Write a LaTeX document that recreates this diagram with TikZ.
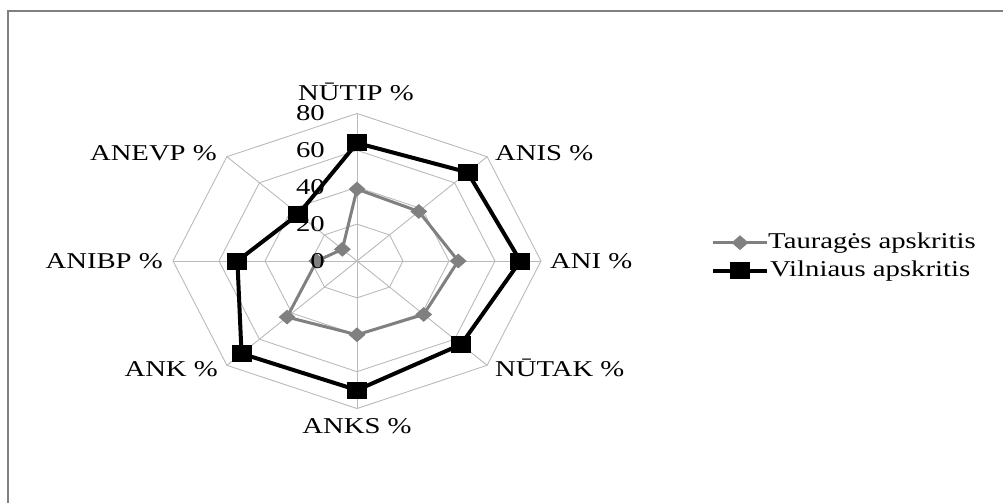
\documentclass[tikz,border=0pt]{standalone}
\usepackage{fontspec}
\setmainfont{Liberation Serif}[FakeStretch=1.27]
\usetikzlibrary{shapes.geometric}

\begin{document}
\begin{tikzpicture}[x=1pt,y=-1pt,
grid/.style={draw=black!27, line width=0.9pt},
frame/.style={draw=black!50, line width=1.6pt},
taur/.style={draw=black!50, line width=3pt, line join=round},
vil/.style={draw=black, line width=4pt, line join=round},
taurmark/.style={diamond, fill=black!50, inner sep=0pt, minimum width=17pt, minimum height=15pt},
vilmark/.style={rectangle, fill=black, inner sep=0pt, minimum width=20pt, minimum height=17pt},
lab/.style={inner sep=0pt, font=\fontsize{22.6}{27}\selectfont}]

\useasboundingbox (0,0) rectangle (1003,503);
\draw[frame] (8,503) -- (8,11) -- (1003,11);

% radar grid and data
\begin{scope}[shift={(357,261)}, x=2.3pt, y=1.844pt]
\foreach \r in {20,40,60,80}
  \draw[grid] (90:\r) -- (45:\r) -- (0:\r) -- (-45:\r) -- (-90:\r) -- (-135:\r) -- (180:\r) -- (135:\r) -- cycle;
\foreach \a in {0,45,...,315}
  \draw[grid] (0,0) -- (\a:80);

\coordinate (T1) at (90:39);
\coordinate (T2) at (45:38);
\coordinate (T3) at (0:44);
\coordinate (T4) at (-45:41);
\coordinate (T5) at (-90:40);
\coordinate (T6) at (-135:43);
\coordinate (T7) at (180:17.5);
\coordinate (T8) at (135:9);

\coordinate (V1) at (90:64);
\coordinate (V2) at (45:68);
\coordinate (V3) at (0:71);
\coordinate (V4) at (-45:64);
\coordinate (V5) at (-90:70);
\coordinate (V6) at (-135:71);
\coordinate (V7) at (180:52);
\coordinate (V8) at (135:36);

\draw[taur] (T1)--(T2)--(T3)--(T4)--(T5)--(T6)--(T7)--(T8)--cycle;
\draw[vil] (V1)--(V2)--(V3)--(V4)--(V5)--(V6)--(V7)--(V8)--cycle;
\end{scope}

\draw (T1) node[taurmark] (T1m) {};
\draw (T2) node[taurmark] (T2m) {};
\draw (T3) node[taurmark] (T3m) {};
\draw (T4) node[taurmark] (T4m) {};
\draw (T5) node[taurmark] (T5m) {};
\draw (T6) node[taurmark] (T6m) {};
\draw (T7) node[taurmark] (T7m) {};
\draw (T8) node[taurmark] (T8m) {};

\draw (V1) node[vilmark] (V1m) {};
\draw (V2) node[vilmark] (V2m) {};
\draw (V3) node[vilmark] (V3m) {};
\draw (V4) node[vilmark] (V4m) {};
\draw (V5) node[vilmark] (V5m) {};
\draw (V6) node[vilmark] (V6m) {};
\draw (V7) node[vilmark] (V7m) {};
\draw (V8) node[vilmark] (V8m) {};

% axis values
\draw (325,113.5) node[lab, anchor=east] (t80) {80};
\draw (325,150.4) node[lab, anchor=east] (t60) {60};
\draw (325,187.2) node[lab, anchor=east] (t40) {40};
\draw (325,224.1) node[lab, anchor=east] (t20) {20};
\draw (325,261) node[lab, anchor=east] (t0) {0};

% axis names
\draw (356,100) node[lab, anchor=base] (NUTIP) {NŪTIP \%};
\draw (495,160) node[lab, anchor=base west] (ANIS) {ANIS \%};
\draw (550,268) node[lab, anchor=base west] (ANI) {ANI \%};
\draw (495,376.7) node[lab, anchor=base west] (NUTAK) {NŪTAK \%};
\draw (357,433) node[lab, anchor=base] (ANKS) {ANKS \%};
\draw (218,376.7) node[lab, anchor=base east] (ANK) {ANK \%};
\draw (163,268) node[lab, anchor=base east] (ANIBP) {ANIBP \%};
\draw (217,160) node[lab, anchor=base east] (ANEVP) {ANEVP \%};

% legend
\coordinate (LTa) at (713,242.7);
\coordinate (LTb) at (767,242.7);
\coordinate (LVa) at (713,270.7);
\coordinate (LVb) at (767,270.7);
\draw[taur] (LTa)--(LTb);
\draw[vil] (LVa)--(LVb);
\draw (740,242.7) node[taurmark] (LTm) {};
\draw (740,270.7) node[vilmark] (LVm) {};
\draw (768,248.3) node[lab, anchor=base west] (LT) {Tauragės apskritis};
\draw (770,276.7) node[lab, anchor=base west] (LV) {Vilniaus apskritis};

\end{tikzpicture}
\end{document}
